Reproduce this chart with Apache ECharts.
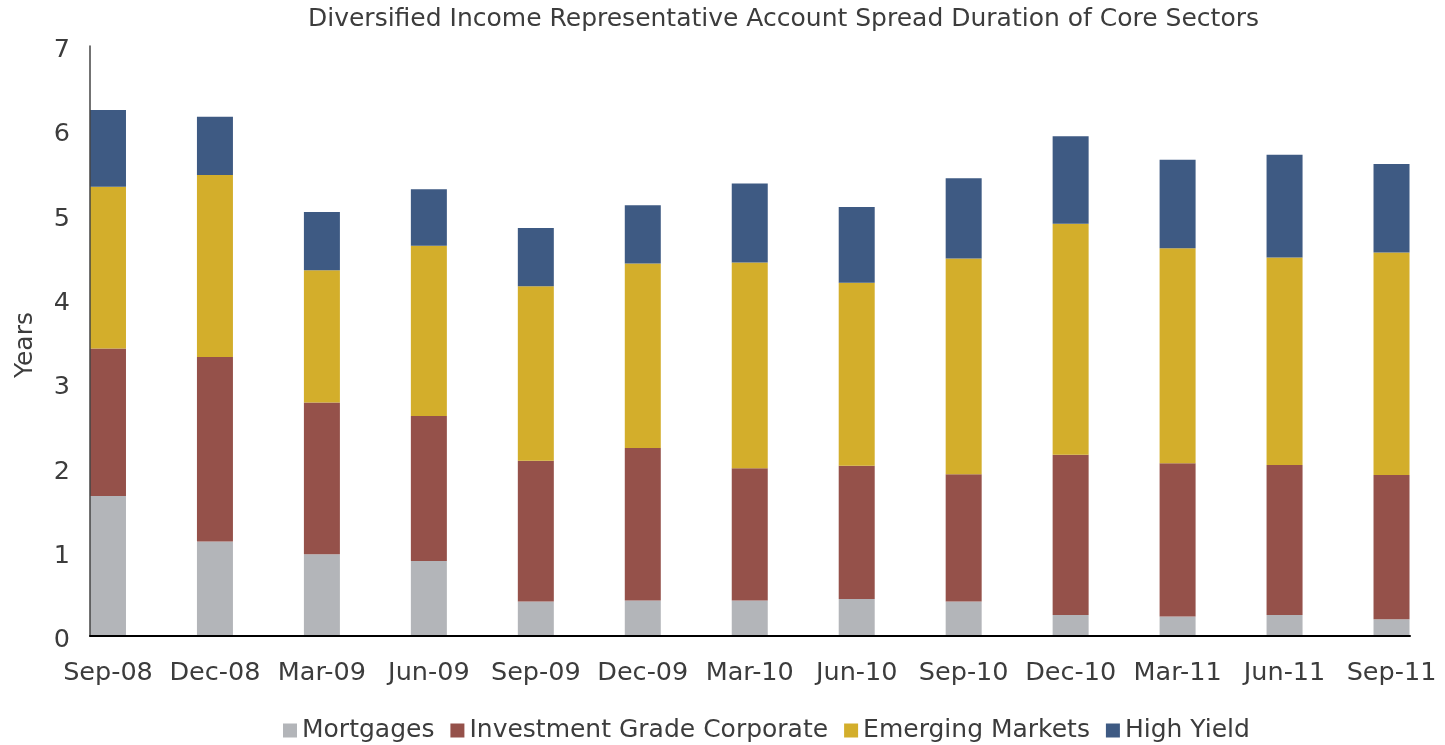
<!DOCTYPE html>
<html>
<head>
<meta charset="utf-8">
<script src="https://cdn.jsdelivr.net/npm/echarts@6.0.0/dist/echarts.min.js"></script>
<style>
  html, body { margin: 0; padding: 0; background: #fff; }
  #chart { width: 1445px; height: 745px; }
</style>
</head>
<body>
<div id="chart"></div>
<script>
// categories (quarter ends)
var categories = ['Sep-08', 'Dec-08', 'Mar-09', 'Jun-09', 'Sep-09', 'Dec-09', 'Mar-10',
  'Jun-10', 'Sep-10', 'Dec-10', 'Mar-11', 'Jun-11', 'Sep-11'];

// spread duration in years, stacked from bottom to top
var mortgages = [1.66, 1.12, 0.97, 0.89, 0.41, 0.42, 0.42, 0.44, 0.41, 0.25, 0.23, 0.25, 0.20];
var invGrade = [1.75, 2.19, 1.80, 1.72, 1.67, 1.81, 1.57, 1.58, 1.51, 1.90, 1.82, 1.78, 1.71];
var emerging = [1.92, 2.16, 1.57, 2.02, 2.07, 2.19, 2.44, 2.17, 2.56, 2.74, 2.55, 2.46, 2.64];
var highYield = [0.91, 0.69, 0.69, 0.67, 0.69, 0.69, 0.94, 0.90, 0.95, 1.04, 1.05, 1.22, 1.05];

var seriesNames = ['Mortgages', 'Investment Grade Corporate', 'Emerging Markets', 'High Yield'];

// y axis range
var yMin = 0;
var yMax = 7;
var yStep = 1;

var FONT = '"DejaVu Sans", Verdana, sans-serif';
var TEXT = '#3c3c3c';

var chart = echarts.init(document.getElementById('chart'), null, { renderer: 'canvas' });

function bar(name, data, color) {
  return {
    name: name,
    type: 'bar',
    stack: 'total',
    xAxisIndex: 0,
    yAxisIndex: 0,
    barWidth: 36,
    itemStyle: { color: color },
    emphasis: { disabled: true },
    data: data
  };
}

var option = {
  animation: false,
  title: {
    text: 'Diversified Income Representative Account Spread Duration of Core Sectors',
    left: 308,
    top: 7,
    padding: 0,
    textStyle: {
      fontFamily: FONT,
      fontSize: 25,
      fontWeight: 'normal',
      color: TEXT
    }
  },
  legend: {
    data: seriesNames,
    left: 283,
    top: 718,
    padding: 0,
    itemWidth: 14,
    itemHeight: 14,
    itemGap: 16,
    icon: 'rect',
    textStyle: {
      fontFamily: FONT,
      fontSize: 25,
      color: TEXT
    }
  },
  // grid 0 holds the bars, grid 1 only draws the axis lines and y labels
  grid: [
    { left: 54.5, right: 0, top: 46, bottom: 109 },
    { left: 90, right: 35, top: 46, bottom: 109 }
  ],
  xAxis: [
    {
      type: 'category',
      gridIndex: 0,
      data: categories,
      axisLine: { show: false },
      axisTick: { show: false },
      axisLabel: {
        interval: 0,
        margin: 24,
        fontFamily: FONT,
        fontSize: 25.5,
        color: TEXT
      }
    },
    {
      type: 'category',
      gridIndex: 1,
      data: categories,
      z: 5,
      axisLine: { lineStyle: { color: '#000', width: 2 } },
      axisTick: { show: false },
      axisLabel: { show: false }
    }
  ],
  yAxis: [
    {
      type: 'value',
      gridIndex: 0,
      min: yMin,
      max: yMax,
      interval: yStep,
      show: false
    },
    {
      type: 'value',
      gridIndex: 1,
      min: yMin,
      max: yMax,
      interval: yStep,
      z: 5,
      name: 'Years',
      nameLocation: 'middle',
      nameGap: 52,
      nameTextStyle: {
        fontFamily: FONT,
        fontSize: 25,
        color: TEXT,
        padding: [0, 8, 0, 0]
      },
      axisLine: { show: true, lineStyle: { color: '#444', width: 1.5 } },
      axisTick: { show: false },
      splitLine: { show: false },
      axisLabel: {
        margin: 20,
        // labels sit a little below their ticks, as in the source
        verticalAlign: 'top',
        lineHeight: 9,
        fontFamily: FONT,
        fontSize: 25.5,
        color: TEXT
      }
    }
  ],
  series: [
    bar(seriesNames[0], mortgages, '#b3b5b9'),
    bar(seriesNames[1], invGrade, '#95514a'),
    bar(seriesNames[2], emerging, '#d3ae2b'),
    bar(seriesNames[3], highYield, '#3e5a83')
  ]
};

chart.setOption(option);
</script>
</body>
</html>
